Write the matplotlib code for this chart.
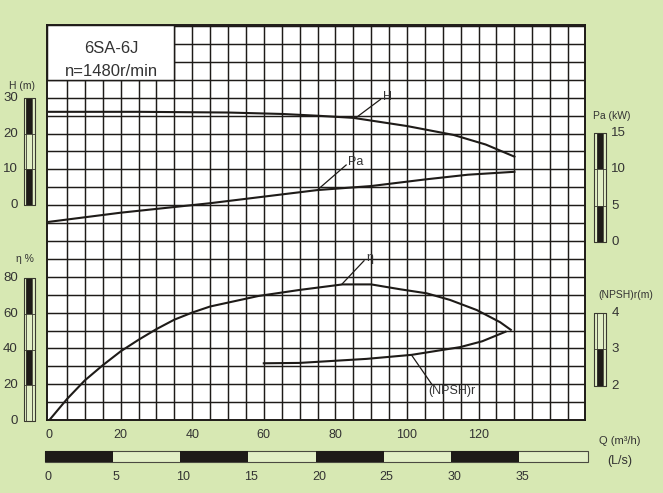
import numpy as np
import matplotlib.pyplot as plt
from matplotlib.patches import Rectangle

plt.rcParams['font.family'] = ['Liberation Sans', 'DejaVu Sans']

# curves, Q in m3/h
q_head = [0, 25, 50, 65, 75, 85, 100, 113, 122, 130]
head = [26.2, 26.2, 26.0, 25.6, 25.1, 24.5, 22.2, 19.7, 17.0, 13.6]

q_power = [0, 20, 45, 75, 90, 105, 117, 130]
power = [2.8, 4.05, 5.35, 7.15, 7.7, 8.6, 9.25, 9.65]

q_eff = [0, 5, 10, 15, 20, 25, 30, 35, 40, 45, 58.5, 70, 82, 90, 98, 105.5, 112, 119.5, 126, 129]
eff = [0, 12, 22.5, 31, 38.8, 45.3, 51.3, 56.6, 60.6, 64, 69.9, 73.3, 76.4, 76.4, 73.7, 71.4, 67.7, 62.0, 55.2, 50.9]

q_npsh = [60, 70, 88.7, 101.3, 114.8, 121, 127.5]
npsh = [2.62, 2.63, 2.74, 2.85, 3.06, 3.22, 3.48]

q_ticks = [0, 20, 40, 60, 80, 100, 120]
ls_ticks = [0, 5, 10, 15, 20, 25, 30, 35]

BG = '#d7e8b3'
LIGHT = '#e2efc6'
INK = '#1e1b18'
TXT = '#333333'

W, H = 663, 493
fig = plt.figure(figsize=(W / 100, H / 100), dpi=100)
fig.patch.set_facecolor(BG)


def px_axes(x0, y0, x1, y1):
    # box given in pixels from the top-left corner
    return fig.add_axes([x0 / W, 1 - y1 / H, (x1 - x0) / W, (y1 - y0) / H])


# plot area
L, T, R, B = 47, 25, 585, 420
Q0, QPX = 49, 3.58
ax = px_axes(L, T, R, B)
ax.set_xlim((L - Q0) / QPX, (R - Q0) / QPX)
top = (B - T) / QPX
ax.set_ylim(0, top)
ax.set_facecolor('white')
for s in ax.spines.values():
    s.set_color(INK)
    s.set_linewidth(1.4)
ax.set_xticks([])
ax.set_yticks([])

for x in np.arange(5, 150, 5):
    ax.axvline(x, color=INK, lw=1.05, zorder=1)
for y in np.arange(5, top, 5):
    ax.axhline(y, color=INK, lw=1.05, zorder=1)

# title box
x_left = ax.get_xlim()[0]
ax.add_patch(Rectangle((x_left, 95), 35 - x_left, top - 95, fc='white',
                       ec=INK, lw=1.05, zorder=2))
ax.text(17.4, 103.7, '6SA-6J', ha='center', va='center', fontsize=12, color=TXT, zorder=3)
ax.text(17.4, 97.4, 'n=1480r/min', ha='center', va='center', fontsize=12, color=TXT, zorder=3)


def curve_axes(v1, p1, v2, p2):
    a = ax.twinx()
    k = (v2 - v1) / (p2 - p1)
    a.set_ylim(v1 + (B - p1) * k, v1 + (T - p1) * k)
    a.axis('off')
    return a


ax_h = curve_axes(0, 205, 30, 98.3)
ax_pa = curve_axes(0, 242.3, 15, 132.7)
ax_eff = curve_axes(0, 420.5, 80, 278)
ax_np = curve_axes(2, 386, 4, 312.7)

ax_h.plot(q_head, head, color=INK, lw=1.5)
ax_pa.plot(q_power, power, color=INK, lw=1.5)
ax_eff.plot(q_eff, eff, color=INK, lw=1.5)
ax_np.plot(q_npsh, npsh, color=INK, lw=1.5)

# leader lines and curve names
ax_h.plot([85.7, 92.6], [24.5, 29.7], color=INK, lw=0.9)
ax_h.text(93.3, 30.4, 'H', fontsize=9, color=TXT, va='center')
ax_pa.plot([75.5, 83.0], [7.39, 10.58], color=INK, lw=0.9)
ax_pa.text(83.6, 11.0, 'Pa', fontsize=9, color=TXT, va='center')
ax_eff.plot([81.8, 88.0], [76.5, 89.7], color=INK, lw=0.9)
ax_eff.text(88.6, 91.0, 'η', fontsize=9, color=TXT, va='center')
ax_np.plot([101.3, 106.9], [2.84, 2.05], color=INK, lw=0.9)
ax_np.text(106.0, 1.85, '(NPSH)r', fontsize=9, color=TXT, va='center')


def scale_bar(x0, y_top, y_bot, lo, hi, dark, ticks, side):
    b = px_axes(x0, y_top, x0 + 11.5, y_bot)
    b.set_xlim(0, 1)
    b.set_ylim(lo, hi)
    b.axis('off')
    b.add_patch(Rectangle((0, lo), 1, hi - lo, fc=LIGHT, ec='#3a3a30', lw=0.8, clip_on=False))
    for y0, y1 in dark:
        b.add_patch(Rectangle((0.24, y0), 0.53, y1 - y0, fc=INK, ec='none'))
    for xx in (0.24, 0.77):
        b.plot([xx, xx], [lo, hi], color='#3a3a30', lw=0.6)
    for t in ticks:
        b.plot([0, 1], [t, t], color='#3a3a30', lw=0.6, clip_on=False)
        if side == 'left':
            b.text(-0.5, t, str(t), ha='right', va='center', fontsize=9.5, color=TXT)
        else:
            b.text(1.5, t, str(t), ha='left', va='center', fontsize=9.5, color=TXT)


scale_bar(23.5, 98.3, 205, 0, 30, [(0, 10), (20, 30)], [0, 10, 20, 30], 'left')
scale_bar(23.5, 278, 421, 0, 80, [(20, 40), (60, 80)], [0, 20, 40, 60, 80], 'left')
scale_bar(594, 132.7, 242.3, 0, 15, [(0, 5), (10, 15)], [0, 5, 10, 15], 'right')
scale_bar(594, 312.7, 386, 2, 4, [(2, 3)], [2, 3, 4], 'right')

# unit labels
fig.text(22 / W, 1 - 86 / H, 'H (m)', ha='center', va='center', fontsize=7.5, color=TXT)
fig.text(25 / W, 1 - 259 / H, 'η %', ha='center', va='center', fontsize=7.5, color=TXT)
fig.text(612 / W, 1 - 116 / H, 'Pa (kW)', ha='center', va='center', fontsize=7.5, color=TXT)
fig.text(626 / W, 1 - 295 / H, '(NPSH)r(m)', ha='center', va='center', fontsize=7.5, color=TXT)
fig.text(620 / W, 1 - 441.5 / H, 'Q (m³/h)', ha='center', va='center', fontsize=8, color=TXT)
fig.text(620 / W, 1 - 461 / H, '(L/s)', ha='center', va='center', fontsize=9, color=TXT)

# Q tick labels
for q in q_ticks:
    fig.text((Q0 + q * QPX) / W, 1 - 435 / H, str(q), ha='center', va='center',
             fontsize=9, color=TXT)

# L/s bar
LS_PX = (519 - 45) / 35
lb = px_axes(45, 450.7, 587.7, 461.7)
ls_max = (587.7 - 45) / LS_PX
lb.set_xlim(0, ls_max)
lb.set_ylim(0, 1)
lb.axis('off')
lb.add_patch(Rectangle((0, 0), ls_max, 1, fc=LIGHT, ec='#4a4a40', lw=0.8, clip_on=False))
for i, v in enumerate(ls_ticks):
    if i % 2 == 0:
        lb.add_patch(Rectangle((v, 0), 5, 1, fc=INK, ec='none'))
for v in ls_ticks:
    fig.text((45 + v * LS_PX + 3) / W, 1 - 477 / H, str(v), ha='center', va='center',
             fontsize=9, color=TXT)

fig.savefig('out.png', dpi=100, facecolor=BG)
